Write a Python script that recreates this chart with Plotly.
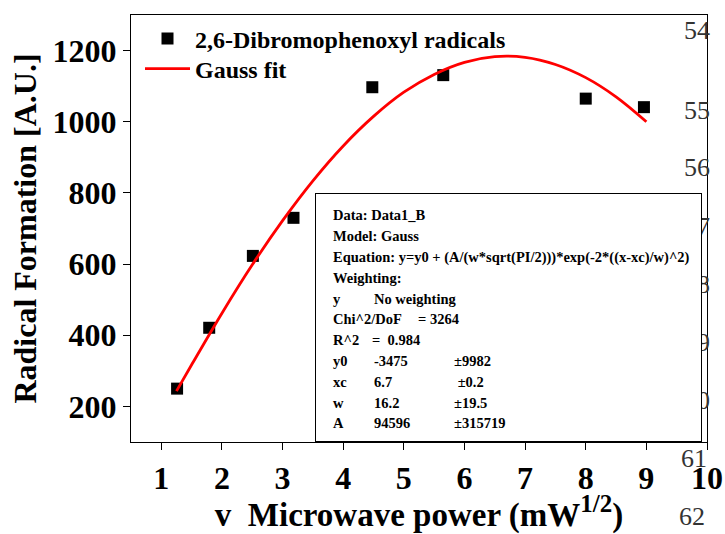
import plotly.graph_objects as go

# ---- data ----
power_sqrt = [1.26, 1.79, 2.51, 3.18, 4.48, 5.65, 8.0, 8.96]
radicals = [250, 421, 623, 730, 1097, 1131, 1065, 1041]

fit_x = [1.25, 1.5, 2.0, 2.5, 3.0, 3.5, 4.0, 4.5, 5.0, 5.5, 6.0, 6.5, 7.0, 7.5, 8.0, 8.5, 9.0]
fit_y = [243, 317, 462, 598, 722, 834, 932, 1015, 1083, 1133, 1167, 1183, 1181, 1161, 1124, 1070, 1000]

x_ticks = [1, 2, 3, 4, 5, 6, 7, 8, 9, 10]
y_ticks = [200, 400, 600, 800, 1000, 1200]

info_labels = ["Data: Data1_B", "Model: Gauss",
               "Equation: y=y0 + (A/(w*sqrt(PI/2)))*exp(-2*((x-xc)/w)^2)",
               "Weighting:", "y", "Chi^2/DoF", "R^2", "y0", "xc", "w", "A"]
info_values = ["", "", "", "", "No weighting", "", "", "-3475", "6.7", "16.2", "94596"]
info_errors = ["", "", "", "", "", "", "", "±9982", " ±0.2", "±19.5", "±315719"]
chi_text = "= 3264"
r2_text = "=  0.984"

page_numbers = ["54", "55", "56", "57", "58", "59", "60", "61", "62"]

SERIF = "Liberation Serif"

# plot-area geometry in pixels
L, R, T, B = 131, 707, 15, 442
W, H = 725, 534


def px(x):
    return (x - L) / (R - L)


def py(y):
    return 1 - (y - T) / (B - T)


fig = go.Figure()
fig.add_trace(go.Scatter(
    x=power_sqrt, y=radicals, mode="markers",
    name="2,6-Dibromophenoxyl radicals", legend="legend",
    marker=dict(symbol="square", size=12, color="black"),
))
fig.add_trace(go.Scatter(
    x=fit_x, y=fit_y, mode="lines", name="Gauss fit", legend="legend2",
    line=dict(color="red", width=2.8, shape="spline"),
))

ann = []
# page line numbers (behind the info box)
num_pos = [(697, 30), (697, 110), (697, 168), (697, 226), (697, 284),
           (697, 342), (697, 400), (694, 458), (692, 516)]
for t, (x, y) in zip(page_numbers, num_pos):
    ann.append(dict(x=px(x), y=py(y), xref="paper", yref="paper", text=t,
                    showarrow=False, xanchor="center", yanchor="middle",
                    font=dict(family=SERIF, size=26, color="#333333")))

# info box (white, covers page numbers)
box_l, box_t, box_r, box_b = 315, 193, 702, 442
ann.append(dict(x=px(box_l), y=py(box_t), xref="paper", yref="paper",
                text=" ", showarrow=False, xanchor="left", yanchor="top",
                width=box_r - box_l - 2, height=box_b - box_t - 2,
                bgcolor="white", bordercolor="black", borderwidth=1,
                borderpad=0, font=dict(size=6)))

info_font = dict(family=SERIF, size=14.5, color="black", weight="bold")
row_y = [215, 236, 257, 278, 299, 319, 340, 361, 382, 403, 423]
for i, yy in enumerate(row_y):
    ann.append(dict(x=px(331), y=py(yy), xref="paper", yref="paper",
                    text=info_labels[i], showarrow=False, xanchor="left",
                    yanchor="middle", font=info_font))
    if info_values[i]:
        ann.append(dict(x=px(372), y=py(yy), xref="paper", yref="paper",
                        text=info_values[i], showarrow=False, xanchor="left",
                        yanchor="middle", font=info_font))
    if info_errors[i]:
        ann.append(dict(x=px(452), y=py(yy), xref="paper", yref="paper",
                        text=info_errors[i], showarrow=False, xanchor="left",
                        yanchor="middle", font=info_font))
ann.append(dict(x=px(416), y=py(row_y[5]), xref="paper", yref="paper",
                text=chi_text, showarrow=False, xanchor="left", yanchor="middle",
                font=info_font))
ann.append(dict(x=px(370), y=py(row_y[6]), xref="paper", yref="paper",
                text=r2_text, showarrow=False, xanchor="left", yanchor="middle",
                font=info_font))

axis_font = dict(family=SERIF, size=32, color="black", weight="bold")
title_font = dict(family=SERIF, size=33, color="black", weight="bold")
legend_font = dict(family=SERIF, size=24, color="black", weight="bold")

fig.update_layout(
    template="none",
    width=W, height=H,
    margin=dict(l=L, r=W - R, t=T, b=H - B, autoexpand=False),
    paper_bgcolor="white", plot_bgcolor="white",
    font=dict(family=SERIF, color="black"),
    showlegend=True,
    legend=dict(x=px(140), y=py(39), xanchor="left", yanchor="middle",
                bgcolor="rgba(0,0,0,0)", borderwidth=0, itemwidth=45,
                font=legend_font),
    legend2=dict(x=px(140), y=py(69), xanchor="left", yanchor="middle",
                 bgcolor="rgba(0,0,0,0)", borderwidth=0, itemwidth=45,
                 font=legend_font),
    xaxis=dict(range=[0.5, 10], tickvals=x_ticks, ticktext=[str(v) for v in x_ticks],
               automargin=False,
               showgrid=False, zeroline=False, showline=True, mirror=True,
               linecolor="black", linewidth=1.3, ticks="outside", ticklen=7,
               tickwidth=1.3, tickcolor="black", tickfont=axis_font,
               title=dict(text='v  Microwave power (mW<sup><span style="font-size:25px">1/2</span></sup>)',
                          font=title_font, standoff=10)),
    yaxis=dict(range=[100, 1300], tickvals=y_ticks, ticktext=[str(v) for v in y_ticks],
               automargin=False,
               showgrid=False, zeroline=False, showline=True, mirror=True,
               linecolor="black", linewidth=1.3, ticks="outside", ticklen=7,
               tickwidth=1.3, tickcolor="black", tickfont=axis_font,
               title=dict(text="Radical Formation [A.U.]", font=axis_font, standoff=6)),
    annotations=ann,
)

fig.write_html("out.html")
